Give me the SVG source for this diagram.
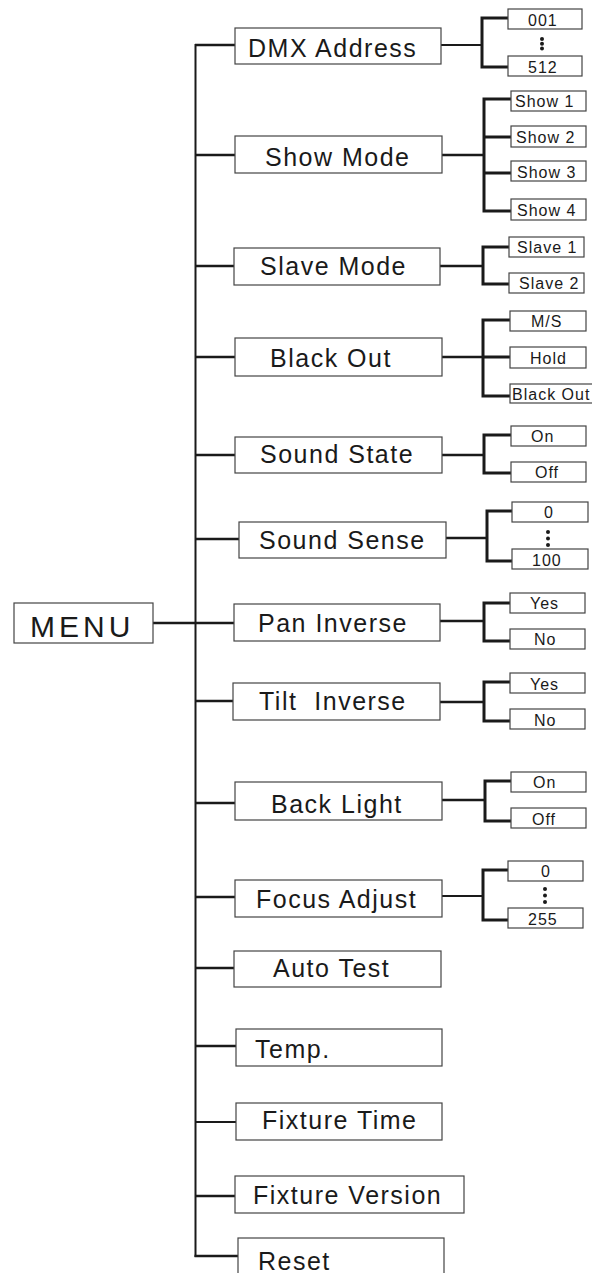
<svg xmlns="http://www.w3.org/2000/svg" width="592" height="1273" viewBox="0 0 592 1273">
<style>
.bx{fill:#fff;stroke:#444;stroke-width:1.2}
.m{font-family:"Liberation Sans",Arial,sans-serif;font-size:25px;letter-spacing:1.5px;fill:#1a1a1a}
.s{font-family:"Liberation Sans",Arial,sans-serif;font-size:16px;letter-spacing:1px;fill:#1a1a1a}
.mn{font-family:"Liberation Sans",Arial,sans-serif;font-size:30px;letter-spacing:4px;fill:#1a1a1a}
.t{fill:none;stroke:#1a1a1a;stroke-width:2}
.b{fill:none;stroke:#1a1a1a;stroke-width:2.6}
.k{fill:none;stroke:#1a1a1a;stroke-width:3}
.d{fill:#1a1a1a}
</style>
<rect width="592" height="1273" fill="#fff"/>
<g id="connectors">
<line class="t" x1="195.5" y1="44" x2="195.5" y2="1257"/>
<line class="b" x1="153" y1="623" x2="234" y2="623"/>
<line class="b" x1="195" y1="45" x2="235" y2="45"/>
<line class="b" x1="195" y1="155" x2="235" y2="155"/>
<line class="b" x1="195" y1="266" x2="234" y2="266"/>
<line class="b" x1="195" y1="357" x2="235" y2="357"/>
<line class="b" x1="195" y1="455" x2="235" y2="455"/>
<line class="b" x1="195" y1="539" x2="239" y2="539"/>
<line class="b" x1="195" y1="701" x2="233" y2="701"/>
<line class="b" x1="195" y1="803" x2="235" y2="803"/>
<line class="b" x1="195" y1="897" x2="235" y2="897"/>
<line class="b" x1="195" y1="968" x2="234" y2="968"/>
<line class="b" x1="195" y1="1046" x2="236" y2="1046"/>
<line class="t" x1="195" y1="1122" x2="236" y2="1122"/>
<line class="b" x1="195" y1="1196" x2="235" y2="1196"/>
<line class="b" x1="194.5" y1="1256" x2="238" y2="1256"/>
<!-- sub brackets -->
<line class="t" x1="441" y1="45" x2="482" y2="45"/>
<path class="k" d="M508 18H482V67H508"/>
<line class="b" x1="442" y1="155" x2="484" y2="155"/>
<path class="k" d="M511 99H484V211H511M484 137H511M484 173H511"/>
<line class="b" x1="440" y1="266" x2="483" y2="266"/>
<path class="k" d="M509 247H483V284H509"/>
<line class="b" x1="442" y1="357" x2="483" y2="357"/>
<path class="k" d="M510 320H483V396H510M483 357H510"/>
<line class="b" x1="442" y1="455" x2="484" y2="455"/>
<path class="k" d="M511 435H484V473H511"/>
<line class="b" x1="446" y1="538" x2="487" y2="538"/>
<path class="k" d="M512 511H487V561H512"/>
<line class="b" x1="440" y1="621" x2="484" y2="621"/>
<path class="k" d="M510 603H484V641H510"/>
<line class="b" x1="440" y1="702" x2="484" y2="702"/>
<path class="k" d="M510 682H484V721H510"/>
<line class="b" x1="442" y1="800" x2="485" y2="800"/>
<path class="k" d="M511 781H485V821H511"/>
<line class="t" x1="442" y1="896" x2="483" y2="896"/>
<path class="k" d="M508 870H483V920H508"/>
</g>
<g id="menu"><rect class="bx" x="14" y="603" width="139" height="40"/><text class="mn" x="30" y="637">MENU</text></g>
<g id="dmx-address"><rect class="bx" x="235" y="28" width="206" height="36"/><text class="m" x="248" y="57">DMX Address</text></g>
<g id="show-mode"><rect class="bx" x="235" y="136" width="207" height="37"/><text class="m" x="265" y="166">Show Mode</text></g>
<g id="slave-mode"><rect class="bx" x="234" y="248" width="206" height="37"/><text class="m" x="260" y="275">Slave Mode</text></g>
<g id="black-out"><rect class="bx" x="235" y="338" width="207" height="38"/><text class="m" x="270" y="367">Black Out</text></g>
<g id="sound-state"><rect class="bx" x="235" y="437" width="207" height="36"/><text class="m" x="260" y="463">Sound State</text></g>
<g id="sound-sense"><rect class="bx" x="239" y="522" width="207" height="36"/><text class="m" x="259" y="549">Sound Sense</text></g>
<g id="pan-inverse"><rect class="bx" x="234" y="604" width="206" height="37"/><text class="m" x="258" y="632">Pan Inverse</text></g>
<g id="tilt-inverse"><rect class="bx" x="233" y="683" width="207" height="37"/><text class="m" x="259" y="710" style="white-space:pre">Tilt  Inverse</text></g>
<g id="back-light"><rect class="bx" x="235" y="782" width="207" height="38"/><text class="m" x="271" y="813">Back Light</text></g>
<g id="focus-adjust"><rect class="bx" x="235" y="880" width="207" height="37"/><text class="m" x="256" y="908">Focus Adjust</text></g>
<g id="auto-test"><rect class="bx" x="234" y="951" width="207" height="36"/><text class="m" x="273" y="977">Auto Test</text></g>
<g id="temp"><rect class="bx" x="236" y="1029" width="206" height="37"/><text class="m" x="255" y="1058">Temp.</text></g>
<g id="fixture-time"><rect class="bx" x="236" y="1103" width="206" height="37"/><text class="m" x="262" y="1129">Fixture Time</text></g>
<g id="fixture-version"><rect class="bx" x="235" y="1176" width="229" height="37"/><text class="m" x="253" y="1204">Fixture Version</text></g>
<g id="reset"><rect class="bx" x="238" y="1238" width="206" height="50"/><text class="m" x="258" y="1270">Reset</text></g>

<g id="dmx-001"><rect class="bx" x="508" y="9" width="74" height="20"/><text class="s" x="528" y="26">001</text></g>
<g id="dmx-dots"><circle class="d" cx="542" cy="39" r="2"/><circle class="d" cx="542" cy="43.7" r="2"/><circle class="d" cx="542" cy="48.5" r="2"/></g>
<g id="dmx-512"><rect class="bx" x="508" y="56" width="74" height="20"/><text class="s" x="528" y="73">512</text></g>
<g id="show-1"><rect class="bx" x="511" y="91" width="75" height="20"/><text class="s" x="515" y="107">Show 1</text></g>
<g id="show-2"><rect class="bx" x="511" y="126" width="75" height="21"/><text class="s" x="516" y="143">Show 2</text></g>
<g id="show-3"><rect class="bx" x="511" y="161" width="75" height="20"/><text class="s" x="517" y="178">Show 3</text></g>
<g id="show-4"><rect class="bx" x="511" y="199" width="75" height="21"/><text class="s" x="517" y="216">Show 4</text></g>
<g id="slave-1"><rect class="bx" x="509" y="237" width="75" height="20"/><text class="s" x="517" y="253">Slave 1</text></g>
<g id="slave-2"><rect class="bx" x="509" y="273" width="75" height="20"/><text class="s" x="519" y="289">Slave 2</text></g>
<g id="bo-ms"><rect class="bx" x="510" y="311" width="76" height="20"/><text class="s" x="531" y="327">M/S</text></g>
<g id="bo-hold"><rect class="bx" x="510" y="347" width="76" height="21"/><text class="s" x="530" y="364">Hold</text></g>
<g id="bo-blackout"><rect class="bx" x="510" y="384" width="90" height="19"/><text class="s" x="512" y="400">Black Out</text></g>
<g id="ss-on"><rect class="bx" x="511" y="426" width="75" height="20"/><text class="s" x="531" y="442">On</text></g>
<g id="ss-off"><rect class="bx" x="511" y="462" width="75" height="20"/><text class="s" x="535" y="478">Off</text></g>
<g id="sense-0"><rect class="bx" x="512" y="502" width="76" height="20"/><text class="s" x="544" y="518">0</text></g>
<g id="sense-dots"><circle class="d" cx="548" cy="532" r="2"/><circle class="d" cx="548" cy="538.5" r="2"/><circle class="d" cx="548" cy="545" r="2"/></g>
<g id="sense-100"><rect class="bx" x="512" y="549" width="76" height="20"/><text class="s" x="532" y="566">100</text></g>
<g id="pan-yes"><rect class="bx" x="510" y="593" width="75" height="20"/><text class="s" x="530" y="609">Yes</text></g>
<g id="pan-no"><rect class="bx" x="510" y="629" width="75" height="20"/><text class="s" x="534" y="645">No</text></g>
<g id="tilt-yes"><rect class="bx" x="510" y="673" width="75" height="20"/><text class="s" x="530" y="690">Yes</text></g>
<g id="tilt-no"><rect class="bx" x="510" y="709" width="75" height="20"/><text class="s" x="534" y="726">No</text></g>
<g id="bl-on"><rect class="bx" x="511" y="772" width="75" height="20"/><text class="s" x="533" y="788">On</text></g>
<g id="bl-off"><rect class="bx" x="511" y="808" width="75" height="20"/><text class="s" x="532" y="825">Off</text></g>
<g id="focus-0"><rect class="bx" x="508" y="861" width="75" height="20"/><text class="s" x="541" y="877">0</text></g>
<g id="focus-dots"><circle class="d" cx="545" cy="889" r="2"/><circle class="d" cx="545" cy="895.5" r="2"/><circle class="d" cx="545" cy="902" r="2"/></g>
<g id="focus-255"><rect class="bx" x="508" y="908" width="75" height="20"/><text class="s" x="528" y="925">255</text></g>
</svg>
